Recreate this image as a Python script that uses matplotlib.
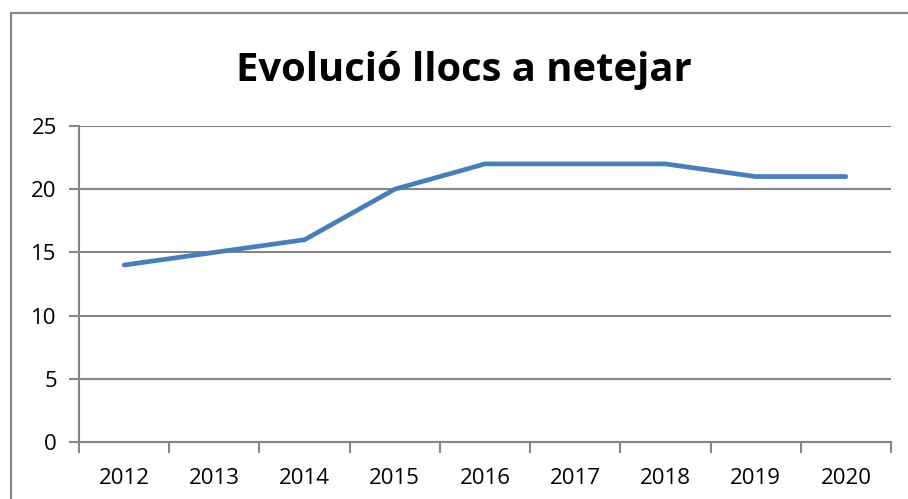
import matplotlib.pyplot as plt
from matplotlib.patches import Rectangle

# data
years = ["2012", "2013", "2014", "2015", "2016", "2017", "2018", "2019", "2020"]
llocs = [14, 15, 16, 20, 22, 22, 22, 21, 21]
yticks = [0, 5, 10, 15, 20, 25]

W, H = 908, 499
fig = plt.figure(figsize=(W / 100, H / 100), dpi=100)
fig.set_facecolor("white")

grey = "#868686"
line_color = "#4a7ebb"
font = "Open Sans"

# outer chart border (runs off right and bottom)
fig.patches.append(Rectangle((11 / W, -0.1), 1.2, (H - 13) / H + 0.1,
                             transform=fig.transFigure, fill=False,
                             edgecolor=grey, linewidth=1.5))

# plot area
left, right, top, bottom = 79, 891, 126, 442
ax = fig.add_axes([left / W, 1 - bottom / H, (right - left) / W, (bottom - top) / H])

x = range(len(years))
ax.plot(x, llocs, color=line_color, linewidth=3.4, solid_capstyle="round",
        solid_joinstyle="round", zorder=5)

ax.set_xlim(-0.5, len(years) - 0.5)
ax.set_ylim(0, 25)
ax.set_yticks(yticks)
ax.set_yticklabels([str(v) for v in yticks], fontsize=16, family=font)
ax.yaxis.grid(True, color=grey, linewidth=1.5)
ax.set_axisbelow(True)

# category labels in the centre, tick marks at the boundaries
ax.set_xticks(list(x))
ax.set_xticklabels(years, fontsize=16, family=font)
ax.tick_params(axis="x", length=0, pad=19)
ax.set_xticks([i - 0.5 for i in range(len(years) + 1)], minor=True)
ax.tick_params(axis="x", which="minor", length=8, width=1.5, color=grey)
ax.tick_params(axis="y", length=7, width=1.5, color=grey, pad=9)

for side in ["top", "right"]:
    ax.spines[side].set_visible(False)
for side in ["left", "bottom"]:
    ax.spines[side].set_color(grey)
    ax.spines[side].set_linewidth(1.5)

fig.text(464 / W, 1 - 70 / H, "Evolució llocs a netejar", fontsize=28.8,
         fontweight="bold", family=font, ha="center", va="center")

fig.savefig("out.png", dpi=100, facecolor="white")
